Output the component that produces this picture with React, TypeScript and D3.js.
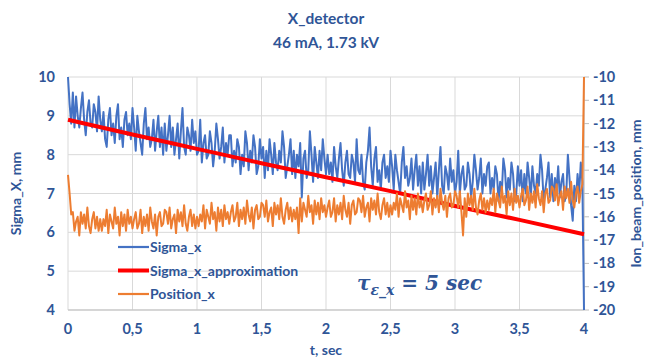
import React from "react";
import * as d3 from "d3";

// Time step between samples, seconds
const DT = 0.0125;

// Beam width along X, mm (left axis), one row per 0.25 s
const sigmaX: number[] = [
  10.0,
  9.3, 8.8, 9.6, 8.7, 9.5, 9.0, 8.7, 9.2, 9.6, 8.9, 8.5, 9.1, 9.4, 8.8, 8.7, 9.3, 9.1, 8.6, 9.5, 8.9,
  8.6, 9.1, 8.4, 8.2, 8.9, 9.2, 8.5, 8.8, 8.3, 9.0, 9.3, 8.4, 8.7, 8.2, 8.9, 9.1, 8.5, 8.8, 8.4, 9.2,
  8.7, 8.1, 9.0, 8.6, 8.3, 8.0, 8.8, 9.2, 8.4, 8.7, 8.2, 8.4, 8.9, 8.1, 8.6, 9.0, 8.2, 8.7, 8.0, 8.8,
  8.1, 8.5, 9.0, 8.2, 8.7, 8.0, 8.4, 8.8, 7.9, 8.6, 9.2, 8.2, 8.0, 8.7, 8.5, 8.1, 8.9, 8.3, 8.6, 8.0,
  8.1, 8.9, 7.8, 8.3, 8.5, 7.9, 8.0, 8.6, 8.3, 7.7, 8.1, 8.8, 8.4, 7.9, 8.2, 8.7, 7.8, 8.3, 8.0, 8.5,
  8.5, 7.7, 8.1, 7.8, 8.4, 8.2, 7.5, 8.0, 7.7, 8.6, 8.3, 7.6, 8.1, 7.8, 8.5, 8.2, 7.5, 7.7, 8.4, 7.9,
  8.2, 7.4, 8.1, 7.6, 8.4, 8.0, 7.5, 8.3, 7.8, 7.6, 8.1, 7.8, 8.6, 8.2, 7.4, 7.7, 8.0, 8.4, 7.5, 8.1,
  7.4, 8.0, 7.7, 8.3, 6.9, 7.9, 8.1, 7.4, 7.6, 8.6, 8.0, 7.3, 8.2, 7.8, 7.4, 8.1, 7.6, 8.4, 7.9, 7.5,
  8.0, 7.5, 7.8, 7.3, 8.2, 7.7, 7.4, 7.9, 8.3, 7.6, 7.2, 7.8, 8.1, 7.5, 7.4, 8.0, 7.8, 7.3, 8.4, 7.6,
  7.5, 8.0, 7.3, 7.1, 7.8, 8.1, 8.7, 7.7, 7.2, 7.9, 8.2, 7.3, 7.6, 7.1, 7.8, 8.0, 7.4, 7.7, 7.3, 8.1,
  7.7, 7.1, 8.0, 7.6, 7.3, 7.0, 7.8, 8.2, 7.4, 7.7, 7.2, 7.4, 7.9, 7.1, 7.6, 8.0, 7.2, 7.7, 7.0, 7.8,
  7.1, 7.5, 8.0, 7.2, 7.7, 7.0, 7.4, 7.8, 6.9, 7.6, 8.2, 7.2, 7.0, 7.7, 7.5, 7.1, 7.9, 7.3, 7.6, 7.0,
  7.3, 8.1, 7.0, 7.5, 7.7, 7.1, 7.2, 7.8, 7.5, 6.9, 7.3, 8.0, 7.6, 7.1, 7.4, 7.9, 7.0, 7.5, 7.2, 7.7,
  7.8, 7.0, 7.4, 7.1, 7.7, 7.5, 6.8, 7.3, 7.0, 7.9, 7.6, 6.9, 7.4, 7.1, 7.8, 7.5, 6.8, 7.0, 7.7, 7.2,
  7.6, 6.8, 7.5, 7.0, 7.8, 7.4, 6.9, 7.7, 7.2, 7.0, 7.5, 7.2, 8.0, 7.6, 6.8, 7.1, 7.4, 7.8, 6.9, 7.5,
  6.8, 7.4, 7.1, 7.7, 6.9, 7.3, 7.5, 6.8, 7.0, 8.0, 7.4, 6.7, 6.3, 7.2, 6.8, 7.5, 7.0, 7.8, 7.3, 4.0,
];

// Ion beam position, mm (right axis), one row per 0.25 s
const positionX: number[] = [
  -14.2,
  -15.0, -15.9, -15.8, -16.6, -16.2, -16.0, -16.8, -15.8, -16.3, -15.9, -16.5, -15.6, -16.4, -16.7, -16.1, -15.8, -16.5, -16.0, -16.6, -16.1,
  -16.6, -16.1, -16.4, -15.7, -16.7, -15.9, -16.2, -16.5, -15.6, -16.3, -16.0, -16.8, -15.8, -16.4, -15.9, -16.6, -15.7, -16.3, -16.0, -16.5,
  -16.1, -15.8, -16.5, -16.3, -15.7, -16.7, -16.0, -16.4, -15.9, -16.6, -15.6, -16.2, -16.5, -15.9, -16.8, -16.0, -15.8, -16.4, -16.3, -15.7,
  -15.8, -16.3, -15.6, -16.5, -16.1, -15.9, -16.7, -15.7, -16.2, -15.8, -16.4, -15.5, -16.3, -16.6, -16.0, -15.7, -16.4, -15.9, -16.5, -16.0,
  -16.4, -15.9, -16.2, -15.5, -16.5, -15.7, -16.0, -16.3, -15.4, -16.1, -15.8, -16.6, -15.6, -16.2, -15.7, -16.4, -15.5, -16.1, -15.8, -16.3,
  -15.8, -15.5, -16.2, -16.0, -15.4, -16.4, -15.7, -16.1, -15.6, -16.3, -15.3, -15.9, -16.2, -15.6, -16.5, -15.7, -15.5, -16.1, -16.0, -15.4,
  -15.5, -16.0, -15.3, -16.2, -15.8, -15.6, -16.4, -15.4, -15.9, -15.5, -16.1, -15.2, -16.0, -16.3, -15.7, -15.4, -16.1, -15.6, -16.2, -15.7,
  -16.1, -15.6, -16.7, -15.2, -16.2, -15.4, -15.7, -16.0, -15.1, -15.8, -15.5, -16.3, -15.3, -15.9, -15.4, -16.1, -15.2, -15.8, -15.5, -16.0,
  -15.6, -15.3, -16.0, -15.8, -15.2, -16.2, -15.5, -15.9, -15.4, -16.1, -15.1, -15.7, -16.0, -15.4, -16.3, -15.5, -15.3, -15.9, -15.8, -15.2,
  -15.3, -15.8, -15.1, -16.0, -15.6, -15.4, -16.2, -15.2, -15.7, -15.3, -15.9, -15.0, -15.8, -16.1, -15.5, -15.2, -15.9, -15.4, -16.0, -15.5,
  -15.9, -15.4, -15.7, -15.0, -16.0, -15.2, -15.5, -15.8, -14.9, -15.6, -15.3, -16.1, -15.1, -15.7, -15.2, -15.9, -15.0, -15.6, -15.3, -15.8,
  -15.3, -15.0, -15.7, -15.5, -14.9, -15.9, -15.2, -15.6, -15.1, -15.8, -14.8, -15.4, -15.7, -15.1, -16.0, -15.2, -15.0, -15.6, -15.5, -14.9,
  -15.1, -15.6, -14.9, -15.8, -16.8, -15.2, -16.0, -15.0, -15.5, -15.1, -15.7, -14.8, -15.6, -15.9, -15.3, -15.0, -15.7, -15.2, -15.8, -15.3,
  -15.7, -15.2, -15.5, -14.8, -15.8, -15.0, -15.3, -15.6, -14.7, -15.4, -15.1, -15.9, -14.9, -15.5, -15.0, -15.7, -14.8, -15.4, -15.1, -15.6,
  -15.1, -14.8, -15.5, -15.3, -14.7, -15.7, -15.0, -15.4, -14.9, -15.6, -14.6, -15.2, -15.5, -14.9, -15.8, -15.0, -14.8, -15.4, -15.3, -14.7,
  -14.8, -15.3, -14.6, -15.5, -15.1, -14.9, -15.7, -14.7, -15.2, -14.8, -15.4, -14.5, -15.3, -15.6, -15.0, -14.7, -15.4, -14.9, -14.6, -10.0,
];

// Fitted decay of the beam width, mm
const approxT: number[] = [0, 0.5, 1, 1.5, 2, 2.5, 3, 3.5, 4];
const approxSigma: number[] = [8.9, 8.52, 8.15, 7.78, 7.42, 7.06, 6.68, 6.32, 5.95];

const xTicks: number[] = [0, 0.5, 1, 1.5, 2, 2.5, 3, 3.5, 4];
const xTickLabels: string[] = ["0", "0,5", "1", "1,5", "2", "2,5", "3", "3,5", "4"];
const leftTicks: number[] = [4, 5, 6, 7, 8, 9, 10];
const rightTicks: number[] = [-20, -19, -18, -17, -16, -15, -14, -13, -12, -11, -10];

const seriesNames: string[] = ["Sigma_x", "Sigma_x_approximation", "Position_x"];
const seriesColors: string[] = ["#4472C4", "#FF0000", "#ED7D31"];
const seriesWidths: number[] = [2, 4, 2];

const W = 648;
const H = 359;
const M = { left: 68, right: 64, top: 77, bottom: 49 };
const TEXT = "#2F5597";
const FONT = "Lato, 'Open Sans', 'Liberation Sans', sans-serif";

export default function App() {
  const x = d3.scaleLinear().domain([0, 4]).range([M.left, W - M.right]);
  const yL = d3.scaleLinear().domain([4, 10]).range([H - M.bottom, M.top]);
  const yR = d3.scaleLinear().domain([-20, -10]).range([H - M.bottom, M.top]);

  const sigmaLine = d3
    .line<number>()
    .x((_, i) => x(i * DT))
    .y((d) => yL(d));
  const posLine = d3
    .line<number>()
    .x((_, i) => x(i * DT))
    .y((d) => yR(d));
  const approxLine = d3
    .line<number>()
    .x((_, i) => x(approxT[i]))
    .y((d) => yL(d))
    .curve(d3.curveMonotoneX);

  const x0 = x(0);
  const x1 = x(4);
  const yTop = yL(10);
  const yBot = yL(4);

  return (
    <svg
      width={W}
      height={H}
      style={{ position: "absolute", left: 0, top: 0, background: "#fff" }}
      fontFamily={FONT}
    >
      {/* title */}
      <text x={326} y={24} textAnchor="middle" fontSize={15.5} fontWeight={700} fill={TEXT}>
        X_detector
      </text>
      <text x={326} y={48} textAnchor="middle" fontSize={15.5} fontWeight={700} fill={TEXT}>
        46 mA, 1.73 kV
      </text>

      {/* grid */}
      {leftTicks.map((v) => (
        <line key={"h" + v} x1={x0} x2={x1} y1={yL(v)} y2={yL(v)} stroke="#D9D9D9" strokeWidth={1} />
      ))}
      {xTicks.map((v) => (
        <line key={"v" + v} x1={x(v)} x2={x(v)} y1={yTop} y2={yBot} stroke="#D9D9D9" strokeWidth={1} />
      ))}

      {/* bottom axis line */}
      <line x1={x0} x2={x1} y1={yBot} y2={yBot} stroke="#BFBFBF" strokeWidth={1} />

      {/* right axis line and ticks */}
      <line x1={x1} x2={x1} y1={yTop} y2={yBot} stroke="#BFBFBF" strokeWidth={1} />
      {rightTicks.map((v) => (
        <line key={"rt" + v} x1={x1} x2={x1 + 5} y1={yR(v)} y2={yR(v)} stroke="#BFBFBF" strokeWidth={1} />
      ))}

      {/* series */}
      <path d={sigmaLine(sigmaX) ?? ""} fill="none" stroke={seriesColors[0]} strokeWidth={seriesWidths[0]} strokeLinejoin="round" />
      <path d={approxLine(approxSigma) ?? ""} fill="none" stroke={seriesColors[1]} strokeWidth={seriesWidths[1]} />
      <path d={posLine(positionX) ?? ""} fill="none" stroke={seriesColors[2]} strokeWidth={seriesWidths[2]} strokeLinejoin="round" />

      {/* left tick labels */}
      {leftTicks.map((v) => (
        <text key={"lt" + v} x={55} y={yL(v) + 5} textAnchor="end" fontSize={14.5} fontWeight={700} fill={TEXT}>
          {v}
        </text>
      ))}
      {/* right tick labels */}
      {rightTicks.map((v) => (
        <text key={"rl" + v} x={593} y={yR(v) + 5} textAnchor="start" fontSize={14.5} fontWeight={700} fill={TEXT}>
          {"-" + Math.abs(v)}
        </text>
      ))}
      {/* x tick labels */}
      {xTicks.map((v, i) => (
        <text key={"xl" + v} x={x(v)} y={334} textAnchor="middle" fontSize={14.5} fontWeight={700} fill={TEXT}>
          {xTickLabels[i]}
        </text>
      ))}

      {/* axis titles */}
      <text x={326} y={355} textAnchor="middle" fontSize={14} fontWeight={700} fill={TEXT}>
        t, sec
      </text>
      <text
        transform={`translate(21, ${(yTop + yBot) / 2}) rotate(-90)`}
        textAnchor="middle"
        fontSize={14}
        fontWeight={700}
        fill={TEXT}
      >
        Sigma_X, mm
      </text>
      <text
        transform={`translate(641, ${(yTop + yBot) / 2}) rotate(-90)`}
        textAnchor="middle"
        fontSize={14}
        fontWeight={700}
        fill={TEXT}
      >
        Ion_beam_position, mm
      </text>

      {/* legend */}
      {seriesNames.map((name, i) => (
        <g key={name} transform={`translate(118, ${247 + i * 23.5})`}>
          <line x1={0} x2={31} y1={0} y2={0} stroke={seriesColors[i]} strokeWidth={i === 1 ? 4 : 2.2} />
          <text x={32} y={5} fontSize={14} fontWeight={700} fill={TEXT}>
            {name}
          </text>
        </g>
      ))}

      {/* time constant annotation */}
      <text x={357} y={290} fontFamily="'DejaVu Serif', 'Liberation Serif', serif" fontStyle="italic" fontWeight={700} fill={TEXT}>
        <tspan fontSize={20}>τ</tspan>
        <tspan fontSize={14} dy={5}>ε_x</tspan>
        <tspan fontSize={20} dy={-5}> = 5 sec</tspan>
      </text>
    </svg>
  );
}
